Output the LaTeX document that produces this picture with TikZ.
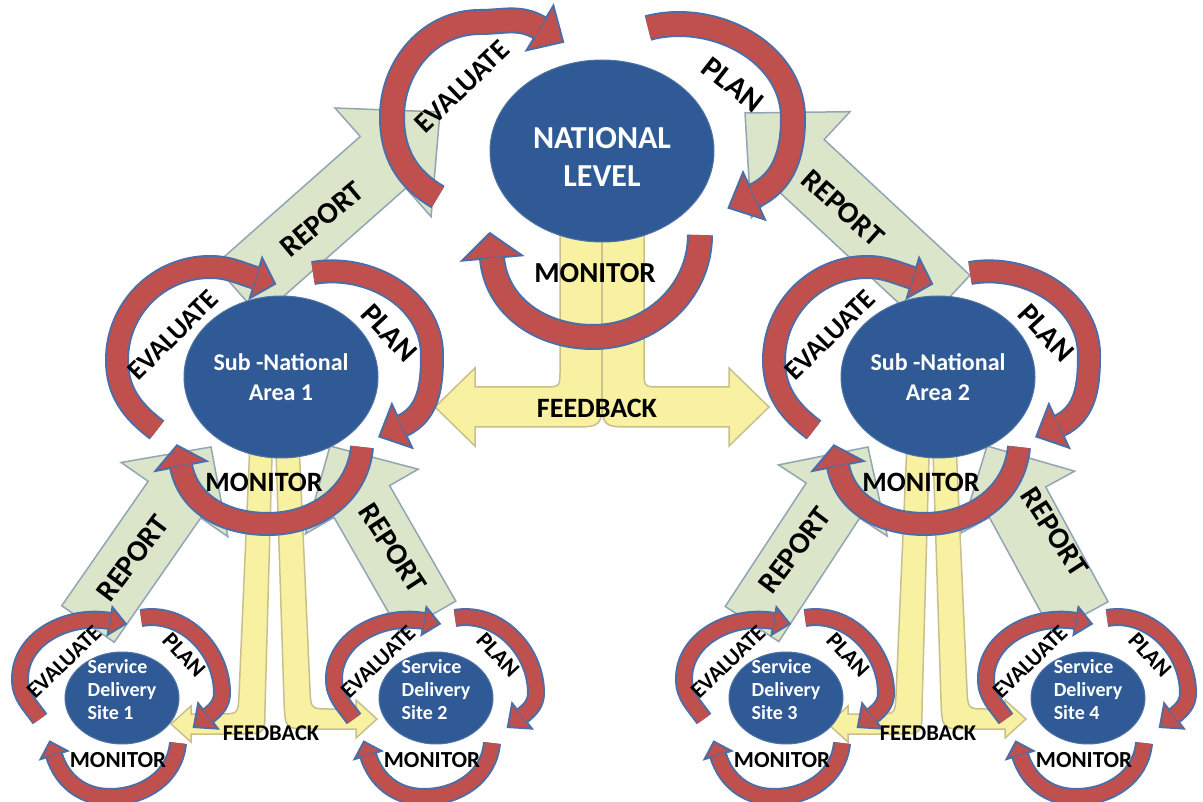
\documentclass[tikz,border=0pt]{standalone}
\usepackage{fontspec}
\setmainfont{Carlito}
\usetikzlibrary{calc,shapes.geometric}
\definecolor{ellblue}{HTML}{2F5A96}
\definecolor{arrred}{HTML}{C0504D}
\definecolor{arrblue}{HTML}{4D6DA6}
\definecolor{repfill}{HTML}{DAE5CA}
\definecolor{repline}{HTML}{93A5B5}
\definecolor{fbfill}{HTML}{F7F1A1}
\definecolor{fbline}{HTML}{C9BF8C}
\tikzset{
  lbl/.style={font=\bfseries\fontsize{#1}{#1}\selectfont, inner sep=0pt, text=black},
  ell/.style={ellipse, fill=ellblue, draw=ellblue!85!white, line width=1pt, inner sep=0pt},
  ltxt/.style={text=white, align=center, inner sep=0pt},
  rep/.style={fill=repfill, draw=repline, line width=1.5pt, line join=miter},
  fb/.style={fill=fbfill, draw=fbline, line width=1.5pt, line join=miter},
}
% curved red arrow: #1 centre-line path, #2 head base, #3 head direction, #4 head half width, #5 head length, #6 band width
\newcommand\redarr[6]{%
  \pgfmathsetmacro\myouterw{#6+4}%
  \draw[line width=\myouterw pt, draw=arrblue] #1;
  \filldraw[fill=arrred, draw=arrblue, line width=2pt, line join=miter]
    ($#2+({#3+90}:#4)$) -- ($#2+(#3:#5)$) -- ($#2+({#3-90}:#4)$) -- cycle;
  \draw[line width=#6pt, draw=arrred] #1;
}
% straight block arrow: tail (#1,#2), tip (#3,#4), half band width #5, head half width #6, head length #7
\newcommand\report[7]{%
  \coordinate (rT) at (#1,-#2);
  \coordinate (rH) at (#3,-#4);
  \coordinate (rB) at ($(rH)!#7pt!(rT)$);
  \filldraw[rep] ($(rT)!#5pt!90:(rH)$) -- ($(rB)!#5pt!90:(rH)$) -- ($(rB)!#6pt!90:(rH)$)
    -- (rH) -- ($(rB)!#6pt!-90:(rH)$) -- ($(rB)!#5pt!-90:(rH)$) -- ($(rT)!#5pt!-90:(rH)$) -- cycle;
}
% feedback pair below a sub-national area
\newcommand\subfb[2]{%
\begin{scope}[shift={(#1,0)}]
  \filldraw[fb] (251,-420) -- (239,-695) .. controls (238,-714) .. (220,-714) -- (191,-714) -- (191,-706)
    -- (171,-724) -- (191,-742) -- (191,-734) -- (240,-734) .. controls (265,-734) .. (265,-708) -- (273,-420) -- cycle;
  \filldraw[fb] (275,-420) -- (284,-700) .. controls (285,-729) .. (310,-729) -- ({356+#2},-729) -- ({356+#2},-738)
    -- ({377+#2},-719) -- ({356+#2},-700) -- ({356+#2},-709) -- (330,-709) .. controls (311,-709) .. (310,-690) -- (298,-420) -- cycle;
\end{scope}}
\newcommand\subunit[4]{%
\begin{scope}[shift={(#2,-#3)}]
  \node[ell, minimum width=194pt, minimum height=162pt] (#1) at (0,0) {};
  \node[ltxt, font=\bfseries\fontsize{24}{30}\selectfont] (#1t) at (0,0) {Sub -National\\#4};
  \redarr{(-124,-53) to[out=143,in=-90] (-164,17) to[out=90,in=180] (-71,110) to[out=0,in=163] (-25,99)}{(-25,99)}{-17}{21}{20}{20}
  \redarr{(32,104) to[out=10,in=90] (151,22) to[out=-90,in=25] (121,-49)}{(121,-49)}{-155}{24}{25}{20}
  \redarr{(81,-70) to[out=-95,in=0] (-13,-147) to[out=180,in=-79] (-100,-89)}{(-100,-89)}{101}{26}{21}{20}
  \node[lbl=27.5, rotate=45] (#1e) at (-108,42) {EVALUATE};
  \node[lbl=30, rotate=-47] (#1p) at (108,44) {PLAN};
  \node[lbl=28] (#1m) at (-17,-105) {MONITOR};
\end{scope}}
\newcommand\siteunit[4]{%
\begin{scope}[shift={(#2,-#3)}]
  \node[ell, minimum width=114pt, minimum height=92pt] (#1) at (0,0) {};
  \node[text=white, align=left, inner sep=0pt, font=\bfseries\fontsize{20}{23}\selectfont] (#1t) at (0,8) {Service\\Delivery\\#4};
  \redarr{(-82,-21) to[out=125,in=-90] (-102,19) to[out=90,in=170] (-12,77)}{(-12,77)}{-10}{14}{16}{14}
  \redarr{(19,80) to[out=10,in=90] (100,5) to[out=-90,in=38] (86,-18)}{(86,-18)}{-142}{16}{18}{14}
  \redarr{(56,-45) to[out=-95,in=0] (-12,-99) to[out=180,in=-73] (-68,-57)}{(-68,-57)}{107}{14}{14}{14}
  \node[lbl=22.5, rotate=44] (#1e) at (-58,36) {EVALUATE};
  \node[lbl=23, rotate=-47] (#1p) at (62,43) {PLAN};
  \node[lbl=23] (#1m) at (-4,-62) {MONITOR};
\end{scope}}

\begin{document}
\begin{tikzpicture}[x=1pt,y=1pt]
\useasboundingbox (0,0) rectangle (1203,-802);
\fill[white] (0,0) rectangle (1203,-802);

% REPORT arrows
\report{237.5}{291}{440}{112}{34.5}{72.5}{76}
\report{946.5}{300.5}{745}{113}{34.5}{72.5}{76}
\report{88}{624}{211}{447}{32}{65}{64}
\report{428}{617}{330}{446}{32}{65}{64}
\report{752}{624}{868}{447}{32}{65}{64}
\report{1080}{617}{987}{446}{32}{65}{64}

% FEEDBACK arrows
\filldraw[fb] (560,-200) -- (560,-370) .. controls (560,-387) .. (543,-387) -- (475,-387) -- (475,-368)
  -- (435,-407) -- (475,-446) -- (475,-427) -- (570,-427) .. controls (602,-427) .. (602,-395) -- (602,-200) -- cycle;
\filldraw[fb] (644,-200) -- (644,-370) .. controls (644,-387) .. (661,-387) -- (729,-387) -- (729,-368)
  -- (769,-407) -- (729,-446) -- (729,-427) -- (634,-427) .. controls (602,-427) .. (602,-395) -- (602,-200) -- cycle;
\subfb{0}{0}
\subfb{657}{-8}

% NATIONAL LEVEL
\begin{scope}[shift={(602,-151)}]
  \node[ell, minimum width=224pt, minimum height=182pt] (nat) at (0,0) {};
  \node[ltxt, font=\bfseries\fontsize{32}{38}\selectfont] (natt) at (0,-6) {NATIONAL\\LEVEL};
  \redarr{(-164,-46) to[out=150,in=-90] (-210,34) to[out=90,in=180] (-122,129) to[out=0,in=149] (-62,123)}{(-62,123)}{-31}{26}{27}{22}
  \redarr{(46,123) to[out=15,in=90] (191,33) to[out=-90,in=25] (152,-45)}{(152,-45)}{-155}{26}{28}{22}
  \redarr{(98,-84) to[out=-90,in=0] (-9,-186) to[out=180,in=-85] (-110,-107)}{(-110,-107)}{95}{30}{25}{22}
  \node[lbl=28.5, rotate=44] (nate) at (-140,64) {EVALUATE};
  \node[lbl=31, rotate=-38] (natp) at (131,66) {PLAN};
  \node[lbl=29] (natm) at (-7,-122) {MONITOR};
\end{scope}

\subunit{sub1}{281}{377}{Area 1}
\subunit{sub2}{938}{377}{Area 2}
\siteunit{site1}{122}{698}{Site 1}
\siteunit{site2}{436}{698}{Site 2}
\siteunit{site3}{786}{698}{Site 3}
\siteunit{site4}{1088}{698}{Site 4}

% REPORT labels
\node[lbl=30, rotate=40] (rep1) at (322,-219) {REPORT};
\node[lbl=30, rotate=-42] (rep2) at (843,-208) {REPORT};
\node[lbl=30, rotate=53] (rep3) at (133,-558) {REPORT};
\node[lbl=30, rotate=-57] (rep4) at (393,-548) {REPORT};
\node[lbl=30, rotate=53] (rep5) at (795,-550) {REPORT};
\node[lbl=30, rotate=-57] (rep6) at (1055,-532) {REPORT};

% FEEDBACK labels
\node[lbl=28] (fb0) at (597,-408) {FEEDBACK};
\node[lbl=22.5] (fb1) at (271,-733) {FEEDBACK};
\node[lbl=22.5] (fb2) at (928,-733) {FEEDBACK};
\end{tikzpicture}
\end{document}
